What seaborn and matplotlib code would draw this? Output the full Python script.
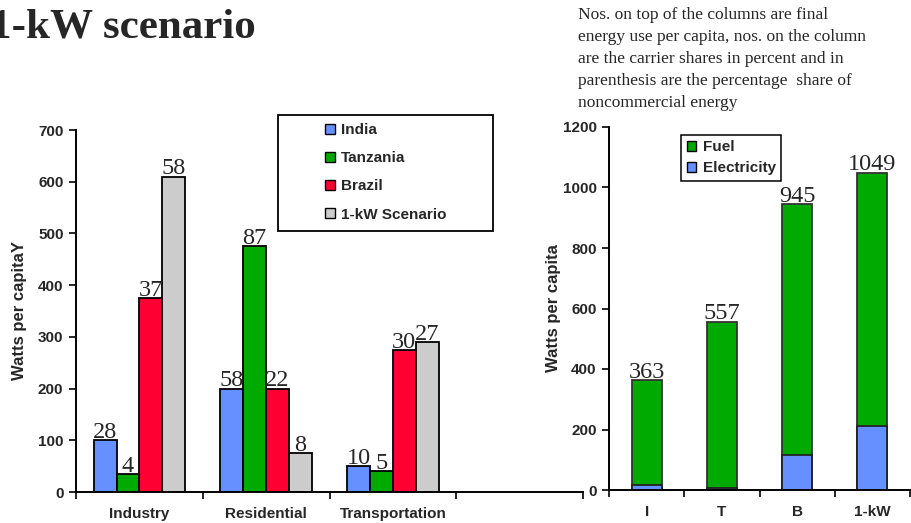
import numpy as np
import pandas as pd
import matplotlib
matplotlib.use("Agg")
import matplotlib.pyplot as plt
from matplotlib.patches import Rectangle, Patch
import seaborn as sns

# left chart: end-use per capita by sector
sectors = ["Industry", "Residential", "Transportation"]
countries = ["India", "Tanzania", "Brazil", "1-kW Scenario"]
watts = {
    "India": [100, 200, 50],
    "Tanzania": [35, 475, 40],
    "Brazil": [375, 200, 275],
    "1-kW Scenario": [610, 75, 290],
}
shares = {
    "India": ["28", "58", "10"],
    "Tanzania": ["4", "87", "5"],
    "Brazil": ["37", "22", "30"],
    "1-kW Scenario": ["58", "8", "27"],
}
country_colors = ["#6690ff", "#00aa00", "#ff0033", "#cccccc"]

# right chart: fuel vs electricity
cases = ["I", "T", "B", "1-kW"]
totals = [363, 557, 945, 1049]
electricity = [15, 5, 115, 210]
fuel_color = "#00aa00"
elec_color = "#6690ff"

note = ("Nos. on top of the columns are final\n"
        "energy use per capita, nos. on the column\n"
        "are the carrier shares in percent and in\n"
        "parenthesis are the percentage  share of\n"
        "noncommercial energy")

sns.set_style("white")
plt.rcParams["font.family"] = ["Liberation Sans", "DejaVu Sans"]
serif = ["Liberation Serif", "DejaVu Serif"]

fig = plt.figure(figsize=(9.11, 5.23), dpi=100)
W, H = 911, 523
ax1 = fig.add_axes([76 / W, 1 - 492 / H, (583 - 76) / W, (492 - 130) / H])
ax2 = fig.add_axes([609 / W, 1 - 490 / H, (910 - 609) / W, (490 - 127) / H])

# ---- left chart
df = pd.DataFrame([(s, c, watts[c][i]) for c in countries for i, s in enumerate(sectors)],
                  columns=["sector", "country", "watts"])
sns.barplot(data=df, x="sector", y="watts", hue="country", order=sectors,
            hue_order=countries, palette=country_colors, width=0.72,
            edgecolor="black", linewidth=1.3, saturation=1, legend=False, ax=ax1)
for cont, c in zip(ax1.containers, countries):
    ax1.bar_label(cont, labels=shares[c], padding=-2, fontsize=17.5, family=serif)

ax1.set_xlim(-0.5, 3.5)
ax1.set_ylim(0, 700)
ax1.set_yticks(np.arange(0, 701, 100))
ax1.set_xticks(range(3))
ax1.set_xticklabels(sectors)
ax1.set_xticks(np.arange(-0.5, 3.6, 1), minor=True)
ax1.set_xlabel("")
ax1.set_ylabel("Watts per capitaY", fontsize=12, fontweight="bold", labelpad=8)

fig.patches.append(Rectangle((278 / W, 1 - 231 / H), (493 - 278) / W, (231 - 115) / H,
                             transform=fig.transFigure, fill=False, edgecolor="black",
                             linewidth=1.3))
h1 = [Patch(facecolor=col, edgecolor="black", linewidth=1) for col in country_colors]
fig.legend(h1, countries, loc="upper left", bbox_to_anchor=(325 / W, 1 - 123 / H),
           frameon=False, prop={"weight": "bold", "size": 11}, handlelength=0.65,
           handleheight=0.65, handletextpad=0.4, labelspacing=0.93, borderpad=0,
           borderaxespad=0)

# ---- right chart
df2 = pd.DataFrame({"case": cases, "total": totals, "elec": electricity})
sns.barplot(data=df2, x="case", y="total", color=fuel_color, width=0.4,
            edgecolor="#333333", linewidth=1.3, saturation=1, ax=ax2)
sns.barplot(data=df2, x="case", y="elec", color=elec_color, width=0.4,
            edgecolor="#222222", linewidth=1.3, saturation=1, ax=ax2)
ax2.bar_label(ax2.containers[0], labels=[str(t) for t in totals], padding=-2,
              fontsize=17.5, family=serif)

ax2.set_xlim(-0.5, 3.5)
ax2.set_ylim(0, 1200)
ax2.set_yticks(np.arange(0, 1201, 200))
ax2.set_xticks(range(4))
ax2.set_xticklabels(cases)
ax2.set_xticks(np.arange(-0.5, 3.6, 1), minor=True)
ax2.set_xlabel("")
ax2.set_ylabel("Watts per capita", fontsize=12, fontweight="bold", labelpad=1)

h2 = [Patch(facecolor=fuel_color, edgecolor="black", linewidth=1),
      Patch(facecolor=elec_color, edgecolor="black", linewidth=1)]
leg2 = fig.legend(h2, ["Fuel", "Electricity"], loc="upper left",
                  bbox_to_anchor=(681 / W, 1 - 135 / H), prop={"weight": "bold", "size": 11},
                  handlelength=0.65, handleheight=0.65, handletextpad=0.4,
                  labelspacing=0.44, borderpad=0.36, borderaxespad=0, fancybox=False,
                  edgecolor="black", framealpha=1)
leg2.get_frame().set_linewidth(1.1)

for ax in (ax1, ax2):
    sns.despine(ax=ax)
    for sp in ("left", "bottom"):
        ax.spines[sp].set_color("black")
        ax.spines[sp].set_linewidth(1.4)
    ax.tick_params(axis="y", which="major", direction="out", length=5, width=1.4,
                   labelsize=11, left=True, pad=4)
    ax.tick_params(axis="x", which="major", length=0, labelsize=11, pad=11)
    ax.tick_params(axis="x", which="minor", direction="out", length=5, width=1.4, bottom=True)
    for lbl in ax.get_xticklabels() + ax.get_yticklabels():
        lbl.set_fontweight("bold")

fig.text(-10 / W, 1 - 38 / H, "1-kW scenario", family=serif, fontweight="bold",
         fontsize=31, ha="left", va="baseline")
fig.text(578 / W, 1 - 7 / H, note, family=serif, fontsize=12.5, ha="left", va="top",
         linespacing=1.5)

fig.savefig("out.png", dpi=100)
